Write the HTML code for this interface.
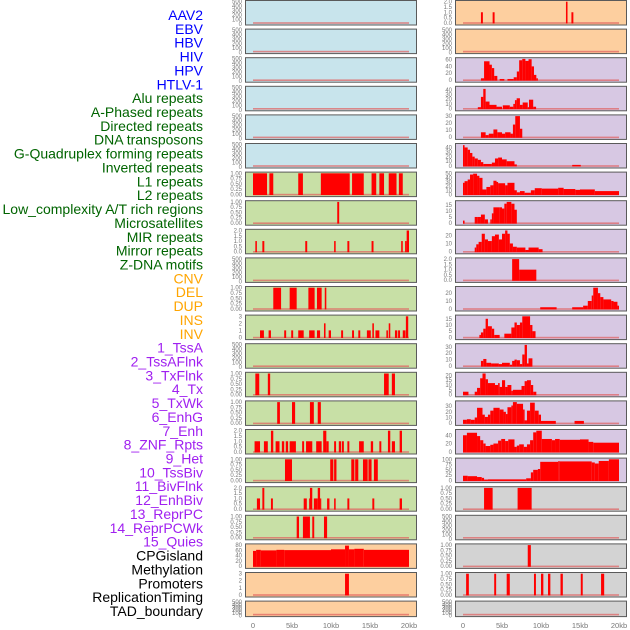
<!DOCTYPE html>
<html><head><meta charset="utf-8"><style>
body{margin:0;background:#fff;width:630px;height:630px;overflow:hidden}
svg{display:block}
.lab{font-family:"Liberation Sans",sans-serif;font-size:14px}
.tk{font-family:"Liberation Sans",sans-serif;font-size:6px;fill:#777}
.xt{font-family:"Liberation Sans",sans-serif;font-size:7.5px;fill:#777}
</style></head><body>
<svg id="chart" width="630" height="630" xmlns="http://www.w3.org/2000/svg"></svg>
<script>
const labelNames=["AAV2","EBV","HBV","HIV","HPV","HTLV-1","Alu repeats","A-Phased repeats","Directed repeats","DNA transposons","G-Quadruplex forming repeats","Inverted repeats","L1 repeats","L2 repeats","Low_complexity A/T rich regions","Microsatellites","MIR repeats","Mirror repeats","Z-DNA motifs","CNV","DEL","DUP","INS","INV","1_TssA","2_TssAFlnk","3_TxFlnk","4_Tx","5_TxWk","6_EnhG","7_Enh","8_ZNF_Rpts","9_Het","10_TssBiv","11_BivFlnk","12_EnhBiv","13_ReprPC","14_ReprPCWk","15_Quies","CPGisland","Methylation","Promoters","ReplicationTiming","TAD_boundary"];
const labelGroups=[0,0,0,0,0,0,1,1,1,1,1,1,1,1,1,1,1,1,1,2,2,2,2,2,3,3,3,3,3,3,3,3,3,3,3,3,3,3,3,4,4,4,4,4];
const xTickLabels=["0","5kb","10kb","15kb","20kb"];
const xTickValues=[0,5,10,15,20];
const T500=["500","400","300","200","100","0"];
const T1=["1.00","0.75","0.50","0.25","0.00"];
const T2=["2.0","1.5","1.0","0.5","0.0"];
const T3=["3","2","1","0"];
const E=[];
// per panel (column-major): ymax, tick labels, segments [startKb,endKb,value]
const panelYmax=[500,500,500,500,500,500,1,1,2,500,1,3,500,1,1,2,1,2,1,80,3,500,
 2,500,62,45,30,46,51,17.5,26,2,27,17,33,22,37,51,100,1,500,1,1,500];
const panelTicks=[T500,T500,T500,T500,T500,T500,T1,T1,T2,T500,T1,T3,T500,T1,T1,T2,T1,T2,T1,["80","60","40","20","0"],T3,T500,
 T2,T500,["60","40","20","0"],["40","30","20","10","0"],["30","20","10","0"],["40","30","20","10","0"],["50","40","30","20","10","0"],["15","10","5","0"],["20","10","0"],T2,["20","10","0"],["15","10","5","0"],["30","20","10","0"],["20","15","10","5","0"],["30","20","10","0"],["40","20","0"],["100","75","50","25","0"],T1,T500,T1,T1,T500];
const panelTickVals=[null,null,null,null,null,null,[1,.75,.5,.25,0],[1,.75,.5,.25,0],[2,1.5,1,.5,0],null,[1,.75,.5,.25,0],[3,2,1,0],null,[1,.75,.5,.25,0],[1,.75,.5,.25,0],[2,1.5,1,.5,0],[1,.75,.5,.25,0],[2,1.5,1,.5,0],[1,.75,.5,.25,0],[80,60,40,20,0],[3,2,1,0],null,
 [2,1.5,1,.5,0],null,[60,40,20,0],[40,30,20,10,0],[30,20,10,0],[40,30,20,10,0],[50,40,30,20,10,0],[15,10,5,0],[20,10,0],[2,1.5,1,.5,0],[20,10,0],[15,10,5,0],[30,20,10,0],[20,15,10,5,0],[30,20,10,0],[40,20,0],[100,75,50,25,0],[1,.75,.5,.25,0],null,[1,.75,.5,.25,0],[1,.75,.5,.25,0],null];
const panelSegs=[E,E,E,E,E,E,
 [[0,1.8,1],[2.1,2.6,1],[5.8,6.4,1],[8.7,12.4,1],[12.7,14.2,1],[15.2,15.8,1],[16.2,16.8,1],[17.4,18.4,1],[18.7,19.2,1]],
 [[10.8,11.05,1]],
 [[0.3,0.5,1],[1.2,1.45,1],[6.7,6.95,1],[10.4,10.6,1],[12.1,12.35,1],[15.2,15.45,1],[19.0,19.2,1],[19.5,19.7,1],[19.7,20,2]],
 E,
 [[2.6,3.6,1],[4.7,5.6,1],[7.1,7.9,1],[8.2,8.8,1],[9.2,9.4,1]],
 [[0.9,1.4,1],[2.0,2.3,1],[4.0,4.25,1],[4.9,5.15,1],[5.8,6.5,1],[7.2,7.9,1],[8.2,8.6,1],[9.1,9.3,2],[9.7,10.0,1],[11.3,11.55,1],[12.7,12.95,1],[13.5,13.75,1],[14.6,15.1,1],[15.3,15.5,2],[15.7,16.2,1],[17.1,17.3,1],[17.4,17.6,2],[18.2,18.5,1],[18.6,18.85,1],[19.2,19.55,1],[19.6,19.9,3]],
 E,
 [[0.3,0.8,1],[1.9,2.2,1],[16.8,17.4,1],[17.8,18.2,1]],
 [[3.1,3.45,1],[5.0,5.4,1],[7.3,7.8,1],[8.3,8.7,1]],
 [[0.2,0.9,1],[1.4,1.9,1],[2.3,2.6,2],[2.9,3.4,1],[3.7,4.0,1],[4.2,4.5,1],[4.7,5.5,1],[6.3,6.55,1],[6.8,7.6,1],[8.1,8.8,1],[9.0,9.4,2],[9.4,9.7,1],[10.4,10.65,1],[11.0,11.3,1],[11.4,11.65,1],[12.1,12.35,1],[13.6,14.2,1],[15.1,15.4,1],[16.2,16.45,1],[17.3,17.6,2],[17.8,18.2,1],[18.8,19.1,2]],
 [[4.1,5.0,1],[9.9,10.3,1],[10.4,10.7,1],[12.6,13.0,1],[13.1,13.5,1],[14.1,14.7,1],[14.8,15.2,1],[15.5,16.0,1]],
 [[0.5,0.9,1],[1.2,1.45,2],[2.3,2.55,1],[6.5,6.9,1],[7.2,7.3,1],[7.3,7.6,2],[7.8,8.3,1],[8.3,8.6,2],[8.6,8.75,1],[9.5,9.8,1],[10.4,10.6,1],[12.1,12.35,1],[15.3,15.55,1],[18.8,19.1,1]],
 [[5.6,5.9,1],[6.4,7.3,1],[7.6,7.85,1],[9.1,9.5,1]],
 [[0,0.4,58],[0.4,1.0,62],[1.0,3.0,60],[3.0,4.0,62],[4.0,10.0,61],[10.0,11.8,64],[11.8,12.3,78],[12.3,13.0,64],[13.0,14.2,66],[14.2,20,62]],
 [[11.8,12.3,3]],
 E,
 // right column
 [[2.3,2.55,1],[3.8,4.05,1],[13.2,13.4,2],[13.9,14.15,1]],
 E,
 [[2.3,2.7,5],[2.7,3.4,55],[3.4,3.7,45],[3.7,4.0,35],[4.0,4.4,12],[4.7,5.3,3],[5.7,6.5,3],[6.5,6.9,8],[6.9,7.2,25],[7.2,7.6,58],[7.6,8.0,62],[8.0,8.4,56],[8.4,8.8,61],[8.8,9.1,40],[9.1,9.4,15],[9.4,9.6,5]],
 [[1.9,2.3,3],[2.3,2.6,25],[2.6,2.9,42],[2.9,3.4,15],[3.4,4.3,8],[4.3,5.0,4],[5.1,6.0,7],[6.0,6.45,4],[6.45,6.66,10],[6.66,6.88,18],[6.88,7.3,22],[7.3,7.65,8],[7.65,8.3,13],[8.3,8.46,3],[8.46,9.0,19],[9.0,9.37,4]],
 [[2.3,2.9,7],[2.9,3.3,3],[3.3,3.9,5],[3.9,4.4,11],[4.4,5.0,7],[5.0,5.4,5],[5.4,6.1,7],[6.1,6.4,5],[6.4,6.7,18],[6.7,7.3,30],[7.3,7.6,12]],
 [[0,0.2,45],[0.2,0.6,40],[0.6,0.9,35],[0.9,1.2,28],[1.2,1.5,20],[1.5,1.9,16],[1.9,2.3,13],[2.3,2.6,8],[2.6,3.7,4],[3.7,4.1,7],[4.1,4.5,16],[4.5,5.0,18],[5.0,5.6,14],[5.6,6.6,10],[6.6,6.9,3],[14.0,15.1,2]],
 [[0,0.2,28],[0.2,0.6,32],[0.6,0.9,36],[0.9,1.3,48],[1.3,1.8,50],[1.8,2.1,45],[2.1,2.5,40],[2.5,3.0,12],[3.0,3.5,18],[3.5,3.9,22],[3.9,4.3,33],[4.3,4.5,30],[4.5,5.4,27],[5.4,5.7,22],[5.7,6.6,28],[6.6,6.9,10],[6.9,7.3,5],[7.3,7.9,8],[7.9,8.7,4],[8.7,9.2,10],[9.2,10.1,15],[10.1,12.2,14],[12.2,12.9,16],[12.9,14.4,13],[14.4,15.0,11],[15.0,16.9,12],[16.9,20,8]],
 [[0,0.2,2],[1.5,1.9,5],[1.9,2.3,5],[2.3,2.8,7],[2.8,3.2,3],[3.5,3.7,3],[3.7,3.9,8],[3.9,4.7,13],[4.7,5.0,13],[5.0,5.3,12],[5.3,5.6,16],[5.6,6.2,17.5],[6.2,6.6,16],[6.6,6.9,11]],
 [[1.5,1.7,5],[1.7,2.0,9],[2.0,2.4,12],[2.4,2.8,22],[2.8,3.2,15],[3.2,3.7,13],[3.7,4.1,19],[4.1,4.6,21],[4.6,5.0,15],[5.0,5.4,22],[5.4,5.7,26],[5.7,6.0,22],[6.0,6.4,10],[6.4,6.9,6],[6.9,8.0,5],[8.0,8.4,2],[8.4,9.7,5],[9.7,10.2,3]],
 [[6.3,7.2,2],[7.2,9.4,1]],
 [[9.9,12.0,2],[14.0,15.4,2],[15.4,16.0,4],[16.0,16.5,10],[16.5,16.7,17],[16.7,17.3,27],[17.3,17.6,20],[17.6,18.0,15],[18.0,19.0,12],[19.0,19.3,10],[19.3,19.8,9],[19.8,20,4]],
 [[2.1,2.3,2],[2.3,2.6,4],[2.6,2.9,7],[2.9,3.2,15],[3.2,3.7,9],[3.7,4.0,7],[4.0,4.7,2],[5.3,6.2,3],[6.2,6.6,8],[6.6,6.9,12],[6.9,7.3,10],[7.3,7.6,12],[7.6,8.6,17],[8.6,8.9,10],[8.9,9.3,5]],
 [[2.3,2.6,8],[2.6,3.0,11],[3.0,3.6,5],[3.6,4.1,4],[4.1,4.6,4],[4.6,5.0,3],[5.0,6.0,5],[6.0,6.3,2],[6.3,6.6,8],[6.6,6.9,10],[6.9,7.3,9],[7.3,7.6,3],[7.6,7.9,18],[7.9,8.2,33],[8.2,8.4,4],[8.4,8.9,12]],
 [[0,0.7,3],[1.5,1.8,3],[1.8,2.2,7],[2.2,2.5,17],[2.5,2.9,22],[2.9,3.2,16],[3.2,4.1,12],[4.1,4.5,10],[4.5,4.7,12],[4.7,5.0,8],[5.0,5.4,15],[5.4,5.7,8],[5.7,6.2,10],[6.2,6.4,4],[6.4,7.5,5],[7.5,7.9,9],[7.9,8.2,14],[8.2,8.7,15],[8.7,9.0,10],[9.0,9.4,3]],
 [[0,0.5,6],[0.5,1.0,7],[1.0,1.5,6],[1.5,1.8,10],[1.8,2.5,27],[2.5,2.8,15],[2.8,3.2,11],[3.2,3.5,15],[3.5,3.9,22],[3.9,4.7,27],[4.7,5.2,24],[5.2,5.5,20],[5.5,5.7,16],[5.7,6.2,28],[6.2,6.4,31],[6.4,6.9,37],[6.9,7.7,34],[7.7,7.9,24],[7.9,8.2,5],[8.2,8.6,22],[8.6,9.2,36],[9.2,9.7,22],[9.7,10.0,15],[10.0,11.9,4],[14.3,15.5,4]],
 [[0,0.5,40],[0.5,1.8,46],[1.8,2.2,38],[2.2,2.6,28],[2.6,2.9,20],[2.9,3.5,14],[3.5,3.9,17],[3.9,4.5,20],[4.5,4.9,27],[4.9,5.4,31],[5.4,5.8,26],[5.8,6.6,30],[6.6,6.9,12],[6.9,7.2,15],[7.2,7.8,18],[7.8,8.2,12],[8.2,8.6,18],[8.6,9.0,28],[9.0,9.4,47],[9.4,10.1,51],[10.1,11.4,31],[11.4,11.8,28],[11.8,12.4,31],[12.4,15.0,29],[15.0,16.1,30],[16.1,16.7,24],[16.7,20,22]],
 [[0,0.6,22],[0.6,1.8,20],[1.8,2.4,16],[2.4,2.7,12],[2.7,3.2,4],[3.2,8.1,5],[8.1,8.7,10],[8.7,9.0,38],[9.0,9.6,50],[9.6,9.9,54],[9.9,12.2,88],[12.2,12.4,91],[12.4,16.5,90],[16.5,16.9,85],[16.9,17.4,80],[17.4,18.7,92],[18.7,20,100]],
 [[2.7,3.8,1],[7.0,8.8,1]],
 E,
 [[8.3,8.7,1]],
 [[0.4,0.75,1],[4.0,4.25,1],[5.6,6.0,1],[9.1,9.35,1],[10.0,10.3,1],[10.9,11.2,1],[12.5,12.8,1],[15.1,15.35,1],[17.7,18.1,1]],
 E];
const groupColors=["#0000ff","#006400","#ffa500","#a020f0","#000000"];
const panelBg=i=>{const g=labelGroups[i];return ["#c8e4ec","#c8e0a6","#fdcf9f","#d7c8e3","#d3d3d3"][g];};
const NS="http://www.w3.org/2000/svg";
const svg=document.getElementById('chart');
function mk(t,a,p){const e=document.createElementNS(NS,t);for(const k in a)e.setAttribute(k,a[k]);(p||svg).appendChild(e);return e;}
// labels
labelNames.forEach((n,i)=>{
 const t=mk('text',{x:203,y:15+i*13.86+5,'text-anchor':'end',class:'lab',fill:groupColors[labelGroups[i]]});
 t.textContent=n;
 
 
});
for(let i=0;i<44;i++){
 const col=i<22?0:1, r=i%22;
 const px=col?455:245, pw=171;
 const top=r*28.6+0.5, h=r===21?15.5:24.5;
 const g=mk('g',{});
 
 
 mk('rect',{x:px+0.5,y:top,width:pw,height:h,fill:panelBg(i),stroke:'#5a5a5a','stroke-width':1},g);
 const x0=px+8, xs=156/20;
 const y0=top+h-2.2, yTop=top+1.2;
 const ymax=panelYmax[i];
 const ys=v=>y0-(v/ymax)*(y0-yTop);
 const xsc=k=>x0+k*xs;
 // baseline
 mk('rect',{x:xsc(0),y:y0-0.6,width:xsc(20)-xsc(0),height:1.6,fill:'#e06060',opacity:0.7},g);
 panelSegs[i].forEach(s=>{
  const b=mk('rect',{x:xsc(s[0]),y:ys(s[2]),width:Math.max(1,xsc(s[1])-xsc(s[0])),height:y0-ys(s[2])+0.6,fill:'#ff0000'},g);
  
  
 });
 const tl=panelTicks[i], tv=panelTickVals[i];
 tl.forEach((lab,j)=>{
  let y;
  if(tv) y=ys(tv[j]); else y=top+1+j*(h-2)/(tl.length-1);
  const t=mk('text',{x:px-3,y:y+2,'text-anchor':'end',class:'tk'},g);
  t.textContent=lab;
 });
}
// x ticks
[245,455].forEach(px=>{
 xTickValues.forEach((v,j)=>{
  const t=mk('text',{x:px+8+v*156/20,y:628,'text-anchor':'middle',class:'xt'});
  t.textContent=xTickLabels[j];
  
  
 });
});
</script>
</body></html>
